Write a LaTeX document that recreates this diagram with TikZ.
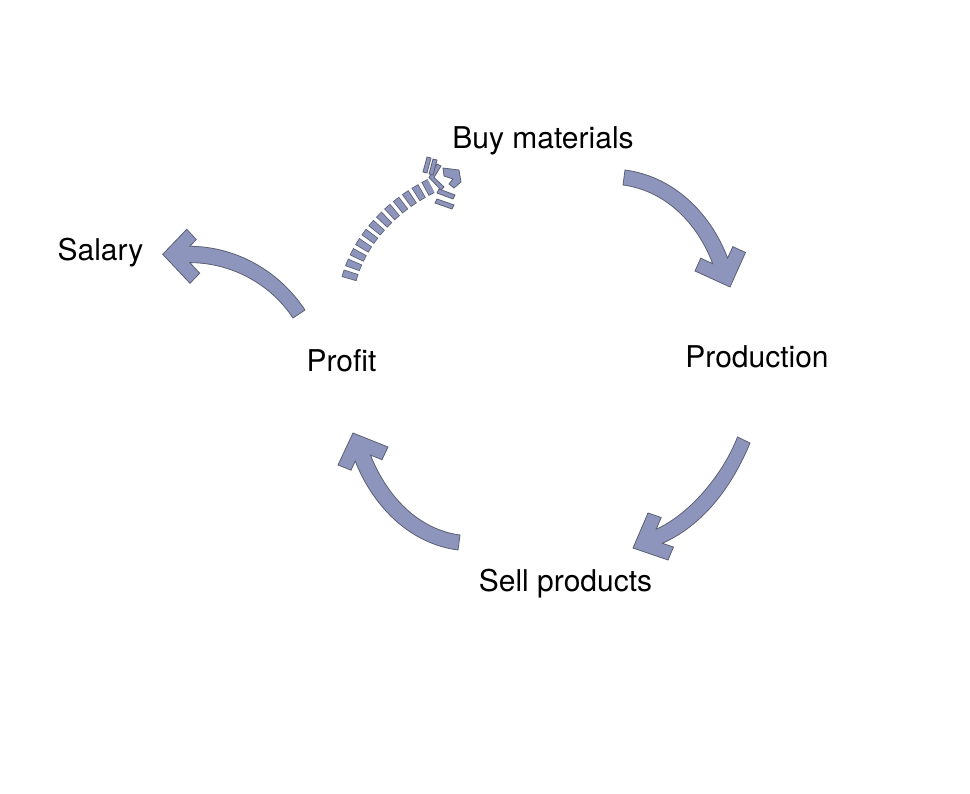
\documentclass[tikz,border=0pt]{standalone}
\usepackage{fontspec}
\setmainfont{TeX Gyre Heros}
\definecolor{arrowc}{HTML}{8D95BD}
\definecolor{arrowline}{HTML}{5C6073}
\begin{document}
\begin{tikzpicture}[x=1pt,y=-1pt,
  blockarrow/.style={fill=arrowc, draw=arrowline, line width=0.8pt, line join=miter},
  dashpiece/.style={fill=arrowc, draw=arrowline, line width=0.8pt, line join=miter},
  dashedge/.style={draw=arrowline, line width=15.4pt, dash pattern=on 7.4pt off 3.6pt},
  dashfill/.style={draw=arrowc, line width=13.8pt, dash pattern=on 5.8pt off 5.2pt, dash phase=10.2pt},
  lbl/.style={font=\fontsize{30}{36}\selectfont, inner sep=0pt, anchor=base, text=black}]
\useasboundingbox (0,0) rectangle (970,794);
\fill[white] (0,0) rectangle (970,794);

% labels
\node[lbl] (buy)  at (543,149) {Buy materials};
\node[lbl] (prod) at (757,368) {Production};
\node[lbl] (sell) at (565.5,591) {Sell products};
\node[lbl] (prof) at (341.5,372) {Profit};
\node[lbl] (sal)  at (100.5,261) {Salary};

% Buy materials -> Production
\draw[blockarrow] (623,185) -- (625,170)
  .. controls (673.1,176.3) and (710.5,212.7) .. (727.6,258.1)
  -- (732.8,246.7) -- (745.5,252.5) -- (730,287) -- (695,271) -- (700.7,258.2) -- (712.7,263.7)
  .. controls (697.6,223.5) and (665.6,190.6) .. (623,185) -- cycle;

% Production -> Sell products
\draw[blockarrow] (737.5,437) -- (750,443)
  .. controls (732.5,485.3) and (704.4,524.4) .. (662.4,543.3)
  -- (673.5,547.1) -- (668,560) -- (633,548) -- (648,513) -- (661.2,517.5) -- (656.2,529.2)
  .. controls (690.9,513.6) and (723.6,473) .. (737.5,437) -- cycle;

% Sell products -> Profit
\draw[blockarrow] (460,535) -- (458,550)
  .. controls (409.8,543.7) and (373.1,506.5) .. (355.2,461.1)
  -- (351,470.2) -- (338,465) -- (353,433) -- (388,447) -- (382,459.7) -- (370.5,455.1)
  .. controls (386.3,495.2) and (417.4,529.4) .. (460,535) -- cycle;

% Profit -> Salary
\draw[blockarrow] (293,318) -- (305,310)
  .. controls (279.3,271.2) and (236.5,246.5) .. (189.8,246.3)
  -- (196.3,239.5) -- (186.7,229.3) -- (162.7,254.3) -- (190,283.3) -- (199.7,273.2) -- (189.75,262.6)
  .. controls (231.25,262.8) and (270.2,283.6) .. (293,318) -- cycle;

% Profit -> Buy materials (dashed)
\coordinate (dA) at (349,279);
\coordinate (dB) at (431,186);
\draw[dashedge] (dA) .. controls (360,238) and (393,205) .. (dB);
\draw[dashfill] (dA) .. controls (360,238) and (393,205) .. (dB);
\draw[dashpiece] (443,168) -- (459,170) -- (461,182) -- (454,188) -- (449,184) -- (453,179) -- (444,176) -- cycle;
\draw[dashpiece] (437,164) -- (429,177.5) -- (441,190) -- (444,187) -- (434,177.5) -- (441,166) -- cycle;
\draw[dashpiece] (423,172) -- (427,157) -- (431,158) -- (427,173) -- cycle;
\draw[dashpiece] (429,174) -- (433,159) -- (437,160) -- (433,175) -- cycle;
\draw[dashpiece] (439,189) -- (455,195) -- (453,199) -- (437,193) -- cycle;
\draw[dashpiece] (437,199) -- (454,205) -- (452,209) -- (435,203) -- cycle;
\end{tikzpicture}
\end{document}
